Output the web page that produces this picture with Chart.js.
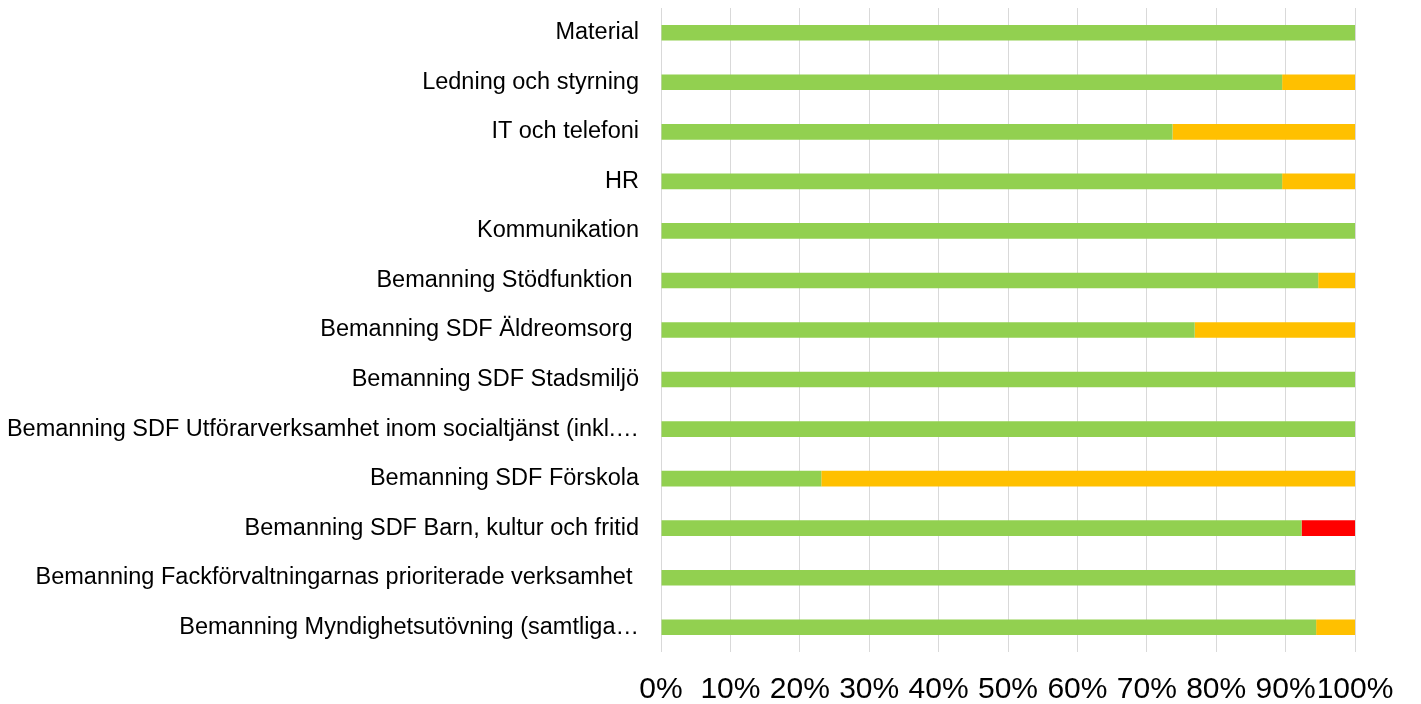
<!DOCTYPE html>
<html>
<head>
<meta charset="utf-8">
<script src="https://cdn.jsdelivr.net/npm/chart.js@4.4.1/dist/chart.umd.min.js"></script>
<style>
  html, body { margin: 0; padding: 0; background: #fff; }
  #wrap { width: 1421px; height: 704px; position: relative; }
</style>
</head>
<body>
<div id="wrap"><canvas id="statusChart"></canvas></div>
<script>
const categories = [
    'Material',
    'Ledning och styrning',
    'IT och telefoni',
    'HR',
    'Kommunikation',
    'Bemanning Stödfunktion ',
    'Bemanning SDF Äldreomsorg ',
    'Bemanning SDF Stadsmiljö',
    'Bemanning SDF Utförarverksamhet inom socialtjänst (inkl.…',
    'Bemanning SDF Förskola',
    'Bemanning SDF Barn, kultur och fritid',
    'Bemanning Fackförvaltningarnas prioriterade verksamhet ',
    'Bemanning Myndighetsutövning (samtliga…'
];

// share of answers per status, in percent
const green = [100, 89.5, 73.7, 89.5, 100, 94.7, 76.9, 100, 100, 23.1, 92.3, 100, 94.4];
const yellow = [0, 10.5, 26.3, 10.5, 0, 5.3, 23.1, 0, 0, 76.9, 0, 0, 5.6];
const red = [0, 0, 0, 0, 0, 0, 0, 0, 0, 0, 7.7, 0, 0];

const xTicks = [0, 10, 20, 30, 40, 50, 60, 70, 80, 90, 100];

Chart.defaults.font.family = "'Liberation Sans', Arial, sans-serif";
Chart.defaults.color = '#000';

const ctx = document.getElementById('statusChart').getContext('2d');
const statusChart = new Chart(ctx, {
    type: 'bar',
    data: {
        labels: categories,
        datasets: [
            { label: 'Grön', data: green, backgroundColor: '#92D050' },
            { label: 'Gul', data: yellow, backgroundColor: '#FFC000' },
            { label: 'Röd', data: red, backgroundColor: '#FF0000' }
        ]
    },
    options: {
        indexAxis: 'y',
        responsive: true,
        maintainAspectRatio: false,
        animation: false,
        layout: {
            padding: { top: 8, right: 66, bottom: 0, left: 0 }
        },
        datasets: {
            bar: {
                categoryPercentage: 1,
                barPercentage: 0.315,
                borderWidth: 0
            }
        },
        plugins: {
            legend: { display: false },
            tooltip: { enabled: false }
        },
        scales: {
            x: {
                stacked: true,
                min: 0,
                max: 100,
                afterBuildTicks: function(scale) {
                    scale.ticks = xTicks.map(v => ({ value: v }));
                },
                afterFit: function(scale) {
                    scale.height = 52;
                    scale.paddingTop = 0;
                    scale.paddingBottom = 0;
                },
                grid: {
                    color: '#d9d9d9',
                    lineWidth: 1,
                    drawTicks: false
                },
                border: { display: false },
                ticks: {
                    autoSkip: false,
                    maxRotation: 0,
                    padding: 20,
                    font: { size: 30 },
                    callback: function(value) { return value + '%'; }
                }
            },
            y: {
                stacked: true,
                afterFit: function(scale) {
                    scale.width = 661;
                    scale.paddingTop = 0;
                    scale.paddingBottom = 0;
                },
                grid: { display: false, drawTicks: false },
                border: { display: false },
                ticks: {
                    autoSkip: false,
                    padding: 22,
                    font: { size: 23.5 }
                }
            }
        }
    }
});
</script>
</body>
</html>
